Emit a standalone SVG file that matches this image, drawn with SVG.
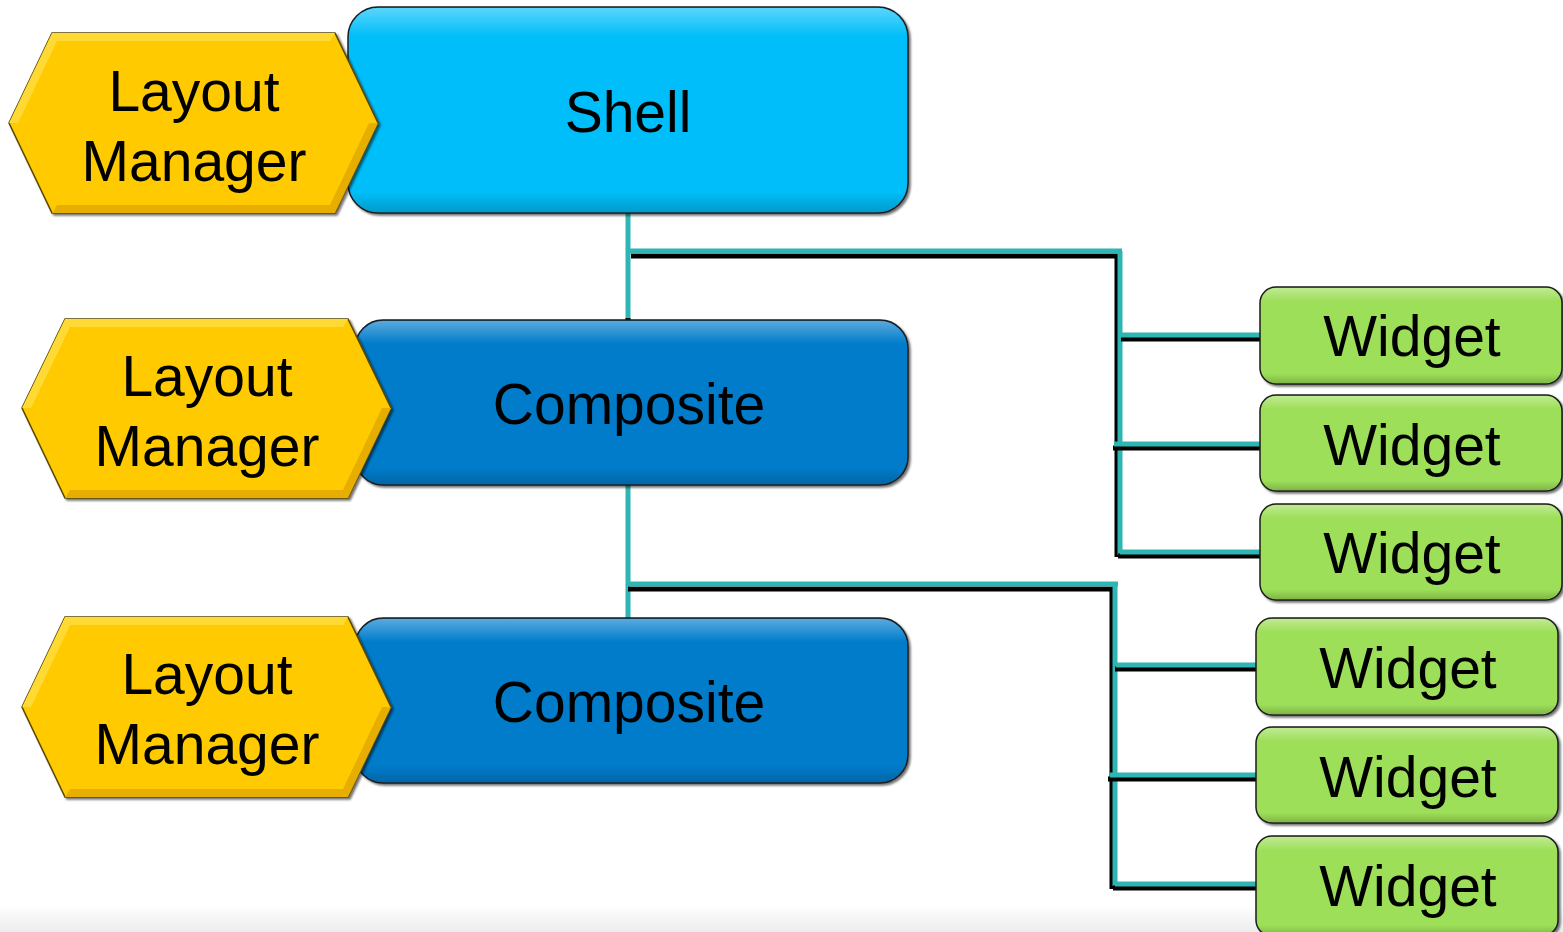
<svg xmlns="http://www.w3.org/2000/svg" width="1563" height="932" viewBox="0 0 1563 932">
  <style>
    .lbl { font-family: "Liberation Sans", Arial, sans-serif; font-size: 57px; fill: #000; text-anchor: middle; }
    .box { stroke: #1c1c1c; stroke-width: 1.5; filter: url(#shadow); }
    .shell { fill: #06BEF9; }
    .comp { fill: #067CCB; }
    .widget { fill: #9DDF59; }
    .hex { fill: #FFCB05; stroke: #5a4700; stroke-width: 1.5; filter: url(#shadow); }
    .bevel-light { fill: #FFD934; }
    .bevel-dark { fill: #E5AE00; }
    .gloss { fill: url(#gloss); }
    .wire { fill: none; stroke: #2DB6B4; stroke-width: 5; stroke-linecap: butt; }
    .wire-sh { fill: none; stroke: #000; stroke-width: 5; stroke-linecap: butt; }
  </style>
  <defs>
    <filter id="shadow" x="-5%" y="-5%" width="110%" height="115%">
      <feDropShadow dx="2" dy="2" stdDeviation="1.2" flood-color="#000" flood-opacity="0.55"/>
    </filter>
    <linearGradient id="gloss" x1="0" y1="0" x2="0" y2="1">
      <stop offset="0" stop-color="#fff" stop-opacity="0.35"/>
      <stop offset="0.08" stop-color="#fff" stop-opacity="0.15"/>
      <stop offset="0.14" stop-color="#fff" stop-opacity="0"/>
      <stop offset="0.9" stop-color="#000" stop-opacity="0"/>
      <stop offset="1" stop-color="#000" stop-opacity="0.18"/>
    </linearGradient>
    <linearGradient id="floor" x1="0" y1="0" x2="0" y2="1">
      <stop offset="0" stop-color="#fff"/>
      <stop offset="1" stop-color="#ececec"/>
    </linearGradient>
  </defs>

  <rect width="1563" height="932" fill="#fff"/>
  <rect y="905" width="1563" height="27" fill="url(#floor)"/>

  <!-- connectors -->
  <g id="connectors">
    <!-- Shell to Composite and first widget set -->
    <path class="wire" d="M628,213 V320"/>
    <rect x="625.5" y="318" width="5" height="6" fill="#000"/>
    <path class="wire-sh" d="M631,256 H1117 V557"/>
    <path class="wire" d="M628,251 H1122"/>
    <path class="wire" d="M1120,251 V555"/>
    <path class="wire-sh" d="M1121,339 H1262"/>
    <path class="wire" d="M1120,335 H1262"/>
    <path class="wire-sh" d="M1113,448 H1262"/>
    <path class="wire" d="M1114,444 H1262"/>
    <path class="wire-sh" d="M1118,556 H1262"/>
    <path class="wire" d="M1120,552 H1262"/>

    <!-- Composite to Composite and second widget set -->
    <path class="wire" d="M628,485 V623"/>
    <path class="wire-sh" d="M628,589 H1112 V889"/>
    <path class="wire" d="M628,584 H1118"/>
    <path class="wire" d="M1115,584 V886"/>
    <path class="wire-sh" d="M1115,669 H1258"/>
    <path class="wire" d="M1116,665 H1258"/>
    <path class="wire-sh" d="M1108,779 H1258"/>
    <path class="wire" d="M1110,775 H1258"/>
    <path class="wire-sh" d="M1113,888 H1258"/>
    <path class="wire" d="M1115,884 H1258"/>
  </g>

  <!-- containers -->
  <g id="shell">
    <rect class="box shell" x="348" y="7" width="560" height="206" rx="30"/>
    <rect class="gloss" x="349" y="8" width="558" height="204" rx="29"/>
    <text class="lbl" x="628" y="132">Shell</text>
  </g>
  <g id="composite-1">
    <rect class="box comp" x="355" y="320" width="553" height="165" rx="28"/>
    <rect class="gloss" x="356" y="321" width="551" height="163" rx="27"/>
    <text class="lbl" x="629" y="424">Composite</text>
  </g>
  <g id="composite-2">
    <rect class="box comp" x="355" y="618" width="553" height="165" rx="28"/>
    <rect class="gloss" x="356" y="619" width="551" height="163" rx="27"/>
    <text class="lbl" x="629" y="722">Composite</text>
  </g>

  <!-- layout managers -->
  <g id="layout-1">
    <polygon class="hex" points="52,33 335,33 378,123 335,213 52,213 9,123"/>
    <polygon class="bevel-light" points="52,33 335,33 330,41 57,41 18,123 9,123"/>
    <polygon class="bevel-dark" points="335,213 52,213 57,205 330,205 369,123 378,123"/>
    <text class="lbl" x="194" y="111">Layout</text>
    <text class="lbl" x="194" y="181">Manager</text>
  </g>
  <g id="layout-2">
    <polygon class="hex" points="65,319 348,319 391,408 348,498 65,498 22,408"/>
    <polygon class="bevel-light" points="65,319 348,319 343,327 70,327 31,408 22,408"/>
    <polygon class="bevel-dark" points="348,498 65,498 70,490 343,490 382,408 391,408"/>
    <text class="lbl" x="207" y="396">Layout</text>
    <text class="lbl" x="207" y="466">Manager</text>
  </g>
  <g id="layout-3">
    <polygon class="hex" points="65,617 348,617 391,707 348,797 65,797 22,707"/>
    <polygon class="bevel-light" points="65,617 348,617 343,625 70,625 31,707 22,707"/>
    <polygon class="bevel-dark" points="348,797 65,797 70,789 343,789 382,707 391,707"/>
    <text class="lbl" x="207" y="694">Layout</text>
    <text class="lbl" x="207" y="764">Manager</text>
  </g>

  <!-- widgets -->
  <g id="widget-1">
    <rect class="box widget" x="1260" y="287" width="302" height="97" rx="16"/>
    <rect class="gloss" x="1261" y="288" width="300" height="95" rx="15"/>
    <text class="lbl" x="1412" y="356">Widget</text>
  </g>
  <g id="widget-2">
    <rect class="box widget" x="1260" y="395" width="302" height="96" rx="16"/>
    <rect class="gloss" x="1261" y="396" width="300" height="94" rx="15"/>
    <text class="lbl" x="1412" y="465">Widget</text>
  </g>
  <g id="widget-3">
    <rect class="box widget" x="1260" y="504" width="302" height="96" rx="16"/>
    <rect class="gloss" x="1261" y="505" width="300" height="94" rx="15"/>
    <text class="lbl" x="1412" y="573">Widget</text>
  </g>
  <g id="widget-4">
    <rect class="box widget" x="1256" y="618" width="302" height="97" rx="16"/>
    <rect class="gloss" x="1257" y="619" width="300" height="95" rx="15"/>
    <text class="lbl" x="1408" y="688">Widget</text>
  </g>
  <g id="widget-5">
    <rect class="box widget" x="1256" y="727" width="302" height="96" rx="16"/>
    <rect class="gloss" x="1257" y="728" width="300" height="94" rx="15"/>
    <text class="lbl" x="1408" y="797">Widget</text>
  </g>
  <g id="widget-6">
    <rect class="box widget" x="1256" y="836" width="302" height="100" rx="16"/>
    <rect class="gloss" x="1257" y="837" width="300" height="98" rx="15"/>
    <text class="lbl" x="1408" y="906">Widget</text>
  </g>
</svg>
